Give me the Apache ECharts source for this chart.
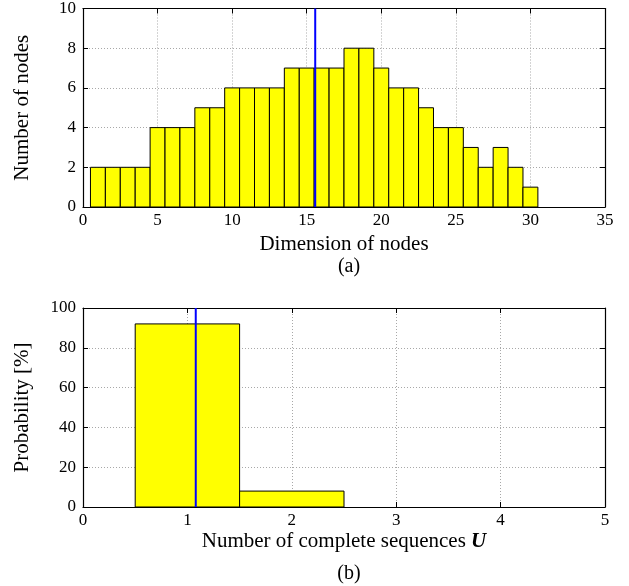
<!DOCTYPE html>
<html>
<head>
<meta charset="utf-8">
<script src="https://cdn.jsdelivr.net/npm/echarts@6/dist/echarts.min.js"></script>
<style>html,body{margin:0;padding:0;background:#fff;}#c{width:629px;height:586px;}</style>
</head>
<body>
<div id="c"></div>
<script>
// ---- data ----
const dims = [1,2,3,4,5,6,7,8,9,10,11,12,13,14,15,16,17,18,19,20,21,22,23,24,25,26,27,28,29,30];
const nodeCounts = [2,2,2,2,4,4,4,5,5,6,6,6,6,7,7,7,7,8,8,7,6,6,5,4,4,3,2,3,2,1];
const meanDim = 15.57;
const seqCounts = [1,2];
const seqProb = [92,8];
const meanSeq = 1.08;

const FONT = 'Liberation Serif';
const histTop = dims.map((d,i)=>[d,nodeCounts[i]]);
const histBot = seqCounts.map((d,i)=>[d,seqProb[i]]);

function renderBar(params, api){
  const x = api.value(0), v = api.value(1);
  const p0 = api.coord([x-0.5, v]);
  const p1 = api.coord([x+0.5, 0]);
  return {type:'rect', shape:{x:p0[0], y:p0[1], width:p1[0]-p0[0], height:p1[1]-p0[1]},
    style:{fill:'#ffff00', stroke:'#000', lineWidth:1}};
}

const serifTick = {fontFamily:FONT, fontSize:17, color:'#000'};
function tickLabel(margin){
  return {show:true, margin, color:'#000', fontFamily:FONT, fontSize:17,
    formatter:'{t|{value}}', rich:{t:serifTick}};
}
const nameStyle = {fontFamily:FONT, fontSize:21, color:'#000'};
const axLine = {show:true, onZero:false, lineStyle:{color:'#000', width:1.2}};
const tick = {show:true, inside:true, length:5, lineStyle:{color:'#000'}};
const split = {show:true, lineStyle:{type:[1,2], color:'#a8a8a8', width:1}};

function primX(gi, min, max, interval, name, gap){
  return {type:'value', gridIndex:gi, min, max, interval, position:'bottom',
    axisLine:axLine, axisTick:tick, splitLine:split,
    axisLabel:tickLabel(5),
    name, nameLocation:'middle', nameGap:gap, nameTextStyle:nameStyle};
}
function secX(gi, min, max, interval){
  return {type:'value', gridIndex:gi, min, max, interval, position:'top',
    axisLine:axLine, axisTick:tick, splitLine:{show:false}, axisLabel:{show:false}};
}
function primY(gi, min, max, interval, name){
  return {type:'value', gridIndex:gi, min, max, interval, position:'left',
    axisLine:axLine, axisTick:tick, splitLine:split,
    axisLabel:tickLabel(7),
    name, nameLocation:'middle', nameGap:50, nameTextStyle:nameStyle};
}
function secY(gi, min, max, interval){
  return {type:'value', gridIndex:gi, min, max, interval, position:'right',
    axisLine:axLine, axisTick:tick, splitLine:{show:false}, axisLabel:{show:false}};
}

const chart = echarts.init(document.getElementById('c'));
chart.setOption({
  animation:false,
  backgroundColor:'#fff',
  textStyle:{fontFamily:FONT, color:'#000'},
  title:[
    {text:'(a)', left:344, top:252, textAlign:'center', textStyle:{fontFamily:FONT, fontSize:20, fontWeight:'normal', color:'#000'}},
    {text:'(b)', left:344, top:559, textAlign:'center', textStyle:{fontFamily:FONT, fontSize:20, fontWeight:'normal', color:'#000'}}
  ],
  grid:[
    {left:83, width:522, top:8, height:199},
    {left:83, width:522, top:308, height:199}
  ],
  xAxis:[
    primX(0,0,35,5,'Dimension of nodes',27),
    secX(0,0,35,5),
    Object.assign(primX(1,0,5,1,'Number of complete sequences {u|U}',24),
      {nameTextStyle:Object.assign({rich:{u:{fontFamily:FONT, fontSize:21, fontWeight:'bold', fontStyle:'italic', color:'#000'}}}, nameStyle)}),
    secX(1,0,5,1)
  ],
  yAxis:[
    primY(0,0,10,2,'Number of nodes'),
    secY(0,0,10,2),
    primY(1,0,100,20,'Probability [%]'),
    secY(1,0,100,20)
  ],
  series:[
    {type:'custom', xAxisIndex:0, yAxisIndex:0, data:histTop, renderItem:renderBar, z:2},
    {type:'line', xAxisIndex:0, yAxisIndex:0, data:[[meanDim,0],[meanDim,10]], symbol:'none',
      lineStyle:{color:'#0000ff', width:2}, z:3},
    {type:'custom', xAxisIndex:2, yAxisIndex:2, data:histBot, renderItem:renderBar, z:2},
    {type:'line', xAxisIndex:2, yAxisIndex:2, data:[[meanSeq,0],[meanSeq,100]], symbol:'none',
      lineStyle:{color:'#0000ff', width:2}, z:3}
  ]
});
</script>
</body>
</html>
